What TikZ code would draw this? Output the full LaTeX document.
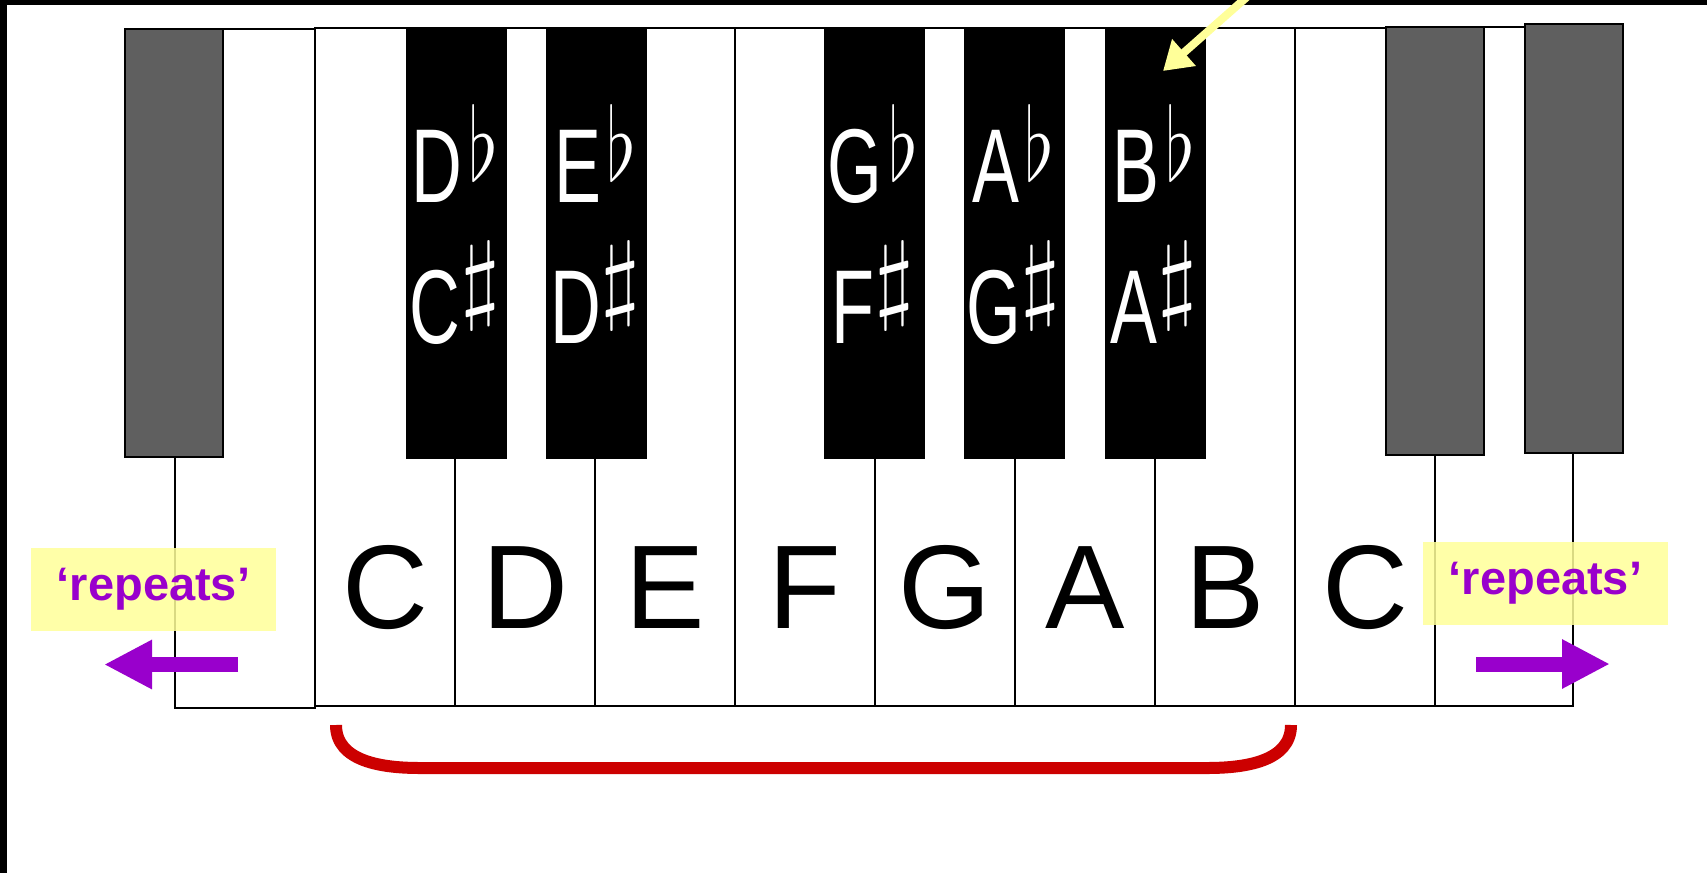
\documentclass[tikz,border=0pt]{standalone}
\usepackage{fontspec}
\setmainfont{Liberation Sans}
\usetikzlibrary{arrows.meta}
\definecolor{keygray}{HTML}{5F5F5F}
\definecolor{noteyellow}{HTML}{FFFF99}
\definecolor{repeatpurple}{HTML}{9900CC}
\definecolor{bracketred}{HTML}{CC0000}
\newcommand\flatsign{\hspace{6pt}\raisebox{22pt}{\resizebox*{30pt}{76pt}{$\flat$}}}
\newcommand\sharpsign{\hspace{0pt}\raisebox{33pt}{\resizebox*{40pt}{87pt}{$\sharp$}}}
\newcommand\blk[1]{\scalebox{0.67}[1]{#1}}
\begin{document}
\begin{tikzpicture}[x=1pt,y=-1pt,
  whitekey/.style={draw=black,line width=1.4pt,fill=white,anchor=north west,inner sep=0,outer sep=0},
  graykey/.style={draw=black,line width=2.2pt,fill=keygray,anchor=north west,inner sep=0,outer sep=0,minimum width=98pt},
  blackkey/.style={draw=black,line width=1pt,fill=black,anchor=north west,inner sep=0,outer sep=0,minimum width=100pt,minimum height=430pt},
  keyletter/.style={font=\fontsize{119}{119}\selectfont,anchor=base,inner sep=0},
  blklabel/.style={font=\fontsize{105}{105}\selectfont,text=white,anchor=base,inner sep=0},
  repeatsbox/.style={fill=noteyellow,fill opacity=0.85,text opacity=1,text=repeatpurple,font=\fontsize{47}{47}\selectfont\bfseries,minimum width=245pt,minimum height=83pt,inner sep=0},
  repeatarrow/.style={draw=repeatpurple,line width=15pt,-{Triangle[length=48pt,width=46pt]}},
]
\useasboundingbox (0,0) rectangle (1707,873);
\fill[white] (0,0) rectangle (1707,873);
% frame
\fill[black] (0,0) rectangle (1707,5);
\fill[black] (0,0) rectangle (7,873);
% left partial white key
\node[whitekey,minimum width=140pt,minimum height=679pt] (wLeft) at (175,29) {};
% main white keys
\foreach \i/\nm in {0/C1,1/D,2/E,3/F,4/G,5/A,6/B,7/C2}{
  \node[whitekey,minimum width=140pt,minimum height=678pt] (w\nm) at ({315+140*\i},28) {};
}
% right partial white key
\node[whitekey,minimum width=138pt,minimum height=679pt] (wRight) at (1435,27) {};
% gray keys
\node[graykey,minimum height=428pt] (gLeft) at (125,29) {};
\node[graykey,minimum height=428pt] (gRightA) at (1386,27) {};
\node[graykey,minimum height=429pt] (gRightB) at (1525,24) {};
% black keys
\node[blackkey] (bDb) at (406,28) {};
\node[blackkey] (bEb) at (546.5,28) {};
\node[blackkey] (bGb) at (824,28) {};
\node[blackkey] (bAb) at (964.5,28) {};
\node[blackkey] (bBb) at (1105,28) {};
% white key letters
\foreach \i/\nm/\t in {0/C1/C,1/D/D,2/E/E,3/F/F,4/G/G,5/A/A,6/B/B,7/C2/C}{
  \node[keyletter] (t\nm) at ({385+140*\i},628) {\t};
}
% black key labels
\node[blklabel] (lDb) at (455,202) {\blk{D}\flatsign};
\node[blklabel] (lCs) at (455,343) {\blk{C}\sharpsign};
\node[blklabel] (lEb) at (595.5,202) {\blk{E}\flatsign};
\node[blklabel] (lDs) at (595.5,343) {\blk{D}\sharpsign};
\node[blklabel] (lGb) at (873,202) {\blk{G}\flatsign};
\node[blklabel] (lFs) at (873,343) {\blk{F}\sharpsign};
\node[blklabel] (lAb) at (1013.5,202) {\blk{A}\flatsign};
\node[blklabel] (lGs) at (1013.5,343) {\blk{G}\sharpsign};
\node[blklabel] (lBb) at (1154,202) {\blk{B}\flatsign};
\node[blklabel] (lAs) at (1154,343) {\blk{A}\sharpsign};
% octave bracket
\coordinate (brL) at (336,725);
\coordinate (brR) at (1291,725);
\draw[bracketred,line width=12pt] (brL) to[out=-90,in=180] (420,768) -- (1207,768) to[out=0,in=-90] (brR);
% repeats labels and arrows
\node[repeatsbox] (repL) at (153.5,589.5) {‘repeats’};
\node[repeatsbox] (repR) at (1545.5,583) {‘repeats’};
\coordinate (arrLs) at (238,664.5);
\coordinate (arrLe) at (104,664.5);
\coordinate (arrRs) at (1476,664);
\coordinate (arrRe) at (1610,664);
\draw[repeatarrow] (arrLs) -- (arrLe);
\draw[repeatarrow] (arrRs) -- (arrRe);
% pointer arrow
\coordinate (ptrS) at (1248,-4);
\coordinate (ptrT) at (1163,71);
\draw[noteyellow,line width=8pt,-{Triangle[length=28pt,width=34pt]}] (ptrS) -- (ptrT);
\end{tikzpicture}
\end{document}
